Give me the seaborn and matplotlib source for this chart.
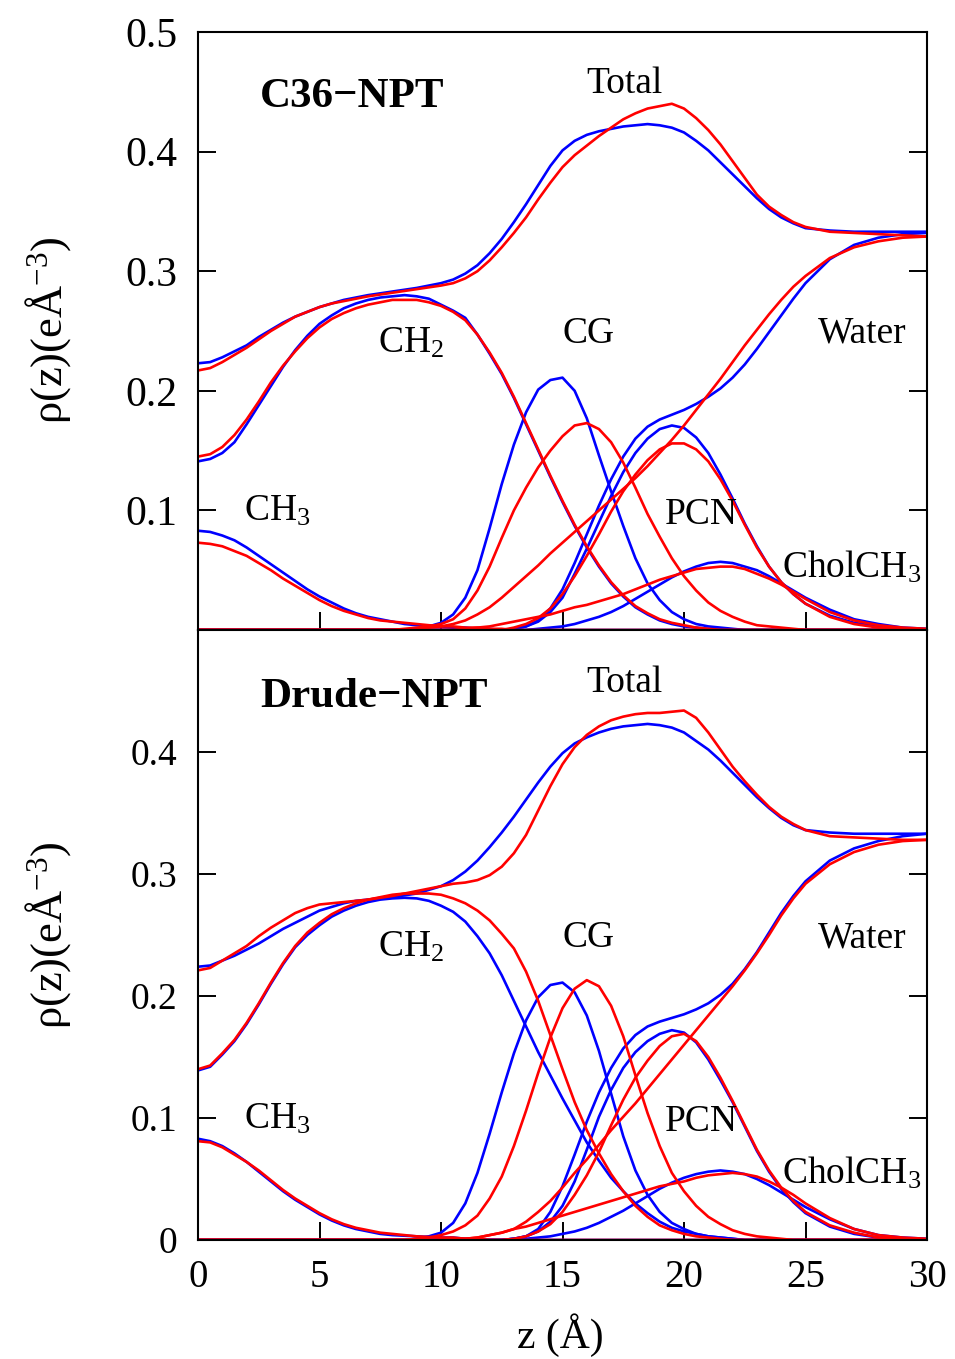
import matplotlib
matplotlib.use("Agg")
import matplotlib.pyplot as plt
import numpy as np
import pandas as pd
import seaborn as sns

# ---------------- data (electron density profiles, e/Å^3) ----------------
Z = [0, 0.5, 1, 1.5, 2, 2.5, 3, 3.5, 4, 4.5,
     5, 5.5, 6, 6.5, 7, 7.5, 8, 8.5, 9, 9.5,
     10, 10.5, 11, 11.5, 12, 12.5, 13, 13.5, 14, 14.5, 15,
     15.5, 16, 16.5, 17, 17.5, 18, 18.5, 19, 19.5, 20,
     20.5, 21, 21.5, 22, 22.5, 23, 23.5, 24, 24.5, 25,
     26, 27, 28, 29, 30]

ZERO20 = [0] * 20

# ---- C36-NPT panel ----
c36_total_blue = [.223, .224, .228, .233, .238, .245, .251, .257, .262, .266,
                  .270, .273, .276, .278, .280, .2815, .283, .2845, .286, .288,
                  .290, .293, .298, .305, .315, .327, .341, .356, .372, .388, .401,
                  .409, .414, .417, .419, .421, .422, .423, .422, .420, .416,
                  .409, .401, .391, .381, .371, .361, .352, .345, .340, .336,
                  .334, .333, .333, .333, .333]
c36_total_red = [.217, .219, .224, .230, .236, .243, .250, .256, .262, .266,
                 .270, .273, .275, .277, .279, .2805, .282, .2835, .285, .2865,
                 .288, .290, .294, .300, .309, .320, .332, .345, .360, .374, .387,
                 .397, .405, .413, .420, .427, .432, .436, .438, .440, .436,
                 .428, .418, .406, .392, .378, .364, .354, .347, .341, .337,
                 .333, .332, .331, .330, .329]
c36_ch2_blue = [.141, .143, .148, .157, .172, .188, .204, .220, .234, .246,
                .256, .263, .269, .273, .276, .278, .279, .280, .279, .277,
                .272, .267, .261, .247, .231, .214, .194, .172, .150, .128, .107,
                .087, .069, .053, .039, .028, .019, .013, .008, .005, .003,
                .002, .001, 0, 0, 0, 0, 0, 0, 0, 0,
                0, 0, 0, 0, 0]
c36_ch2_red = [.145, .147, .153, .163, .176, .191, .207, .221, .233, .244,
               .253, .260, .265, .269, .272, .274, .276, .276, .276, .274,
               .271, .266, .259, .247, .232, .215, .195, .173, .151, .129, .108,
               .088, .070, .054, .040, .029, .020, .014, .009, .006, .004,
               .002, .001, 0, 0, 0, 0, 0, 0, 0, 0,
               0, 0, 0, 0, 0]
c36_ch3_blue = [.083, .082, .079, .075, .069, .062, .055, .048, .041, .034,
                .028, .023, .018, .014, .011, .009, .007, .005, .004, .0035,
                .003, .002, .002, .001, .001, 0, 0, 0, 0, 0, 0,
                0, 0, 0, 0, 0, 0, 0, 0, 0, 0,
                0, 0, 0, 0, 0, 0, 0, 0, 0, 0,
                0, 0, 0, 0, 0]
c36_ch3_red = [.073, .072, .070, .066, .062, .056, .050, .043, .037, .031,
               .025, .020, .016, .013, .010, .008, .007, .006, .005, .004,
               .003, .003, .002, .002, .001, .001, 0, 0, 0, 0, 0,
               0, 0, 0, 0, 0, 0, 0, 0, 0, 0,
               0, 0, 0, 0, 0, 0, 0, 0, 0, 0,
               0, 0, 0, 0, 0]
c36_cg_blue = [0, 0, 0, 0, 0, 0, 0, 0, 0, 0,
               0, 0, 0, 0, 0, 0, 0, 0, .001, .003,
               .006, .013, .027, .050, .085, .122, .155, .182, .201, .209, .211,
               .200, .177, .146, .116, .087, .060, .039, .025, .015, .009,
               .005, .003, .002, .001, 0, 0, 0, 0, 0, 0,
               0, 0, 0, 0, 0]
c36_cg_red = [0, 0, 0, 0, 0, 0, 0, 0, 0, 0,
              0, 0, 0, 0, 0, 0, 0, .001, .002, .003,
              .005, .009, .018, .033, .053, .077, .100, .119, .136, .150, .162,
              .171, .173, .168, .157, .140, .119, .097, .078, .060, .045,
              .033, .023, .016, .011, .007, .004, .003, .002, .001, 0,
              0, 0, 0, 0, 0]
c36_pcn_blue = ZERO20 + [
                0, 0, 0, 0, 0, 0, .001, .003, .007, .015, .027,
                .047, .068, .090, .112, .132, .148, .160, .168, .171, .169,
                .161, .148, .130, .110, .089, .070, .053, .040, .030, .022,
                .012, .006, .003, .001, 0]
c36_pcn_red = ZERO20 + [
               0, 0, 0, 0, 0, 0, .002, .005, .010, .018, .030,
               .045, .062, .080, .099, .116, .130, .142, .151, .156, .156,
               .151, .141, .126, .108, .088, .069, .053, .040, .030, .022,
               .011, .005, .002, .001, 0]
c36_water_blue = ZERO20 + [
                  0, 0, 0, 0, 0, 0, .001, .003, .008, .018, .034,
                  .056, .080, .104, .126, .145, .160, .170, .176, .180, .184,
                  .189, .195, .202, .211, .222, .235, .249, .263, .277, .290,
                  .310, .322, .328, .331, .332]
c36_water_red = [0, 0, 0, 0, 0, 0, 0, 0, 0, 0,
                 0, 0, 0, 0, 0, 0, 0, 0, .001, .002,
                 .003, .005, .008, .013, .019, .027, .036, .045, .054, .064, .073,
                 .082, .091, .100, .109, .118, .127, .137, .148, .159, .171,
                 .184, .197, .210, .224, .238, .251, .264, .276, .287, .296,
                 .311, .320, .325, .328, .329]
c36_chol_blue = ZERO20 + [
                 0, 0, 0, 0, 0, 0, 0, 0, .001, .002, .003,
                 .005, .008, .011, .015, .020, .026, .032, .038, .044, .049,
                 .053, .056, .057, .056, .053, .050, .045, .039, .033, .027,
                 .017, .009, .005, .002, .001]
c36_chol_red = ZERO20 + [
                0, 0, .001, .002, .003, .005, .007, .009, .011, .013, .016,
                .019, .021, .024, .027, .030, .034, .038, .042, .045, .048,
                .051, .052, .053, .053, .051, .047, .043, .038, .032, .026,
                .015, .008, .004, .002, .001]

# ---- Drude-NPT panel ----
drude_total_blue = [.224, .225, .229, .233, .238, .243, .249, .255, .260, .265,
                    .270, .273, .276, .278, .279, .280, .281, .2825, .284, .287,
                    .290, .295, .302, .311, .322, .334, .347, .361, .375, .388, .399,
                    .407, .412, .416, .419, .421, .422, .423, .422, .420, .416,
                    .409, .402, .393, .383, .373, .363, .354, .346, .340, .336,
                    .334, .333, .333, .333, .333]
drude_total_red = [.221, .223, .229, .235, .241, .249, .256, .262, .268, .272,
                   .275, .276, .277, .278, .279, .2805, .282, .284, .286, .288,
                   .290, .292, .293, .295, .299, .306, .317, .332, .352, .372, .390,
                   .404, .414, .421, .426, .429, .431, .432, .432, .433, .434,
                   .428, .416, .402, .388, .376, .365, .355, .347, .341, .336,
                   .331, .330, .329, .328, .328]
drude_ch2_blue = [.139, .142, .152, .163, .177, .193, .210, .226, .240, .250,
                  .258, .265, .270, .274, .277, .279, .280, .2805, .280, .278,
                  .274, .269, .261, .249, .235, .217, .196, .175, .154, .135, .116,
                  .098, .080, .065, .051, .040, .030, .022, .015, .010, .007,
                  .005, .003, .002, .001, 0, 0, 0, 0, 0, 0,
                  0, 0, 0, 0, 0]
drude_ch2_red = [.140, .143, .153, .164, .178, .194, .211, .227, .241, .252,
                 .260, .267, .272, .276, .279, .281, .283, .284, .284, .284,
                 .283, .280, .276, .270, .262, .251, .239, .220, .196, .168, .140,
                 .113, .090, .071, .054, .040, .028, .019, .012, .008, .005,
                 .003, .002, .001, 0, 0, 0, 0, 0, 0, 0,
                 0, 0, 0, 0, 0]
drude_ch3_blue = [.083, .081, .077, .071, .064, .056, .048, .040, .033, .027,
                  .021, .016, .012, .009, .007, .005, .004, .0035, .003, .0025,
                  .002, .002, .001, .001, 0, 0, 0, 0, 0, 0, 0,
                  0, 0, 0, 0, 0, 0, 0, 0, 0, 0,
                  0, 0, 0, 0, 0, 0, 0, 0, 0, 0,
                  0, 0, 0, 0, 0]
drude_ch3_red = [.081, .080, .076, .070, .064, .057, .049, .041, .034, .028,
                 .022, .017, .013, .010, .008, .006, .005, .004, .003, .0025,
                 .002, .002, .001, .001, 0, 0, 0, 0, 0, 0, 0,
                 0, 0, 0, 0, 0, 0, 0, 0, 0, 0,
                 0, 0, 0, 0, 0, 0, 0, 0, 0, 0,
                 0, 0, 0, 0, 0]
drude_cg_blue = [0, 0, 0, 0, 0, 0, 0, 0, 0, 0,
                 0, 0, 0, 0, 0, 0, 0, 0, .001, .003,
                 .006, .014, .030, .055, .087, .121, .153, .180, .199, .209, .211,
                 .203, .184, .155, .120, .085, .057, .037, .023, .014, .009,
                 .005, .003, .002, .001, 0, 0, 0, 0, 0, 0,
                 0, 0, 0, 0, 0]
drude_cg_red = [0, 0, 0, 0, 0, 0, 0, 0, 0, 0,
                0, 0, 0, 0, 0, 0, 0, 0, .001, .002,
                .004, .007, .012, .020, .034, .052, .077, .106, .137, .166, .190,
                .206, .213, .208, .192, .167, .135, .104, .077, .055, .040,
                .028, .019, .013, .008, .005, .003, .002, .001, 0, 0,
                0, 0, 0, 0, 0]
drude_pcn_blue = ZERO20 + [
                  0, 0, 0, 0, 0, 0, .001, .003, .007, .015, .028,
                  .048, .074, .101, .123, .141, .154, .163, .169, .172, .170,
                  .162, .148, .131, .113, .093, .073, .056, .042, .031, .022,
                  .011, .005, .002, .001, 0]
drude_pcn_red = ZERO20 + [
                 0, 0, 0, 0, 0, 0, .001, .003, .007, .013, .023,
                 .037, .053, .072, .094, .115, .133, .147, .159, .167, .169,
                 .163, .150, .133, .114, .094, .074, .057, .043, .032, .023,
                 .012, .006, .002, .001, 0]
drude_water_blue = ZERO20 + [
                    0, 0, 0, 0, 0, 0, .001, .003, .009, .023, .044,
                    .070, .097, .121, .141, .157, .168, .175, .179, .182, .185,
                    .189, .194, .201, .210, .222, .236, .252, .268, .282, .294,
                    .311, .321, .327, .331, .333]
drude_water_red = ZERO20 + [
                   0, 0, .001, .002, .004, .006, .009, .015, .023, .032, .043,
                   .055, .066, .078, .090, .101, .112, .124, .136, .148, .160,
                   .172, .184, .196, .208, .221, .235, .250, .266, .280, .292,
                   .308, .318, .324, .327, .328]
drude_chol_blue = ZERO20 + [
                   0, 0, 0, 0, 0, 0, .001, .001, .002, .003, .005,
                   .007, .010, .014, .019, .024, .030, .036, .042, .047, .051,
                   .054, .056, .057, .056, .054, .050, .045, .039, .033, .027,
                   .017, .009, .004, .002, .001]
drude_chol_red = ZERO20 + [
                  0, .001, .001, .002, .004, .006, .009, .011, .014, .017, .020,
                  .023, .026, .029, .032, .035, .038, .041, .044, .046, .048,
                  .051, .053, .054, .055, .054, .052, .048, .043, .037, .030,
                  .018, .009, .004, .002, .001]

PANELS = {
    "C36": {
        "Total": (c36_total_blue, c36_total_red),
        "CH2": (c36_ch2_blue, c36_ch2_red),
        "CH3": (c36_ch3_blue, c36_ch3_red),
        "CG": (c36_cg_blue, c36_cg_red),
        "PCN": (c36_pcn_blue, c36_pcn_red),
        "Water": (c36_water_blue, c36_water_red),
        "CholCH3": (c36_chol_blue, c36_chol_red),
    },
    "Drude": {
        "Total": (drude_total_blue, drude_total_red),
        "CH2": (drude_ch2_blue, drude_ch2_red),
        "CH3": (drude_ch3_blue, drude_ch3_red),
        "CG": (drude_cg_blue, drude_cg_red),
        "PCN": (drude_pcn_blue, drude_pcn_red),
        "Water": (drude_water_blue, drude_water_red),
        "CholCH3": (drude_chol_blue, drude_chol_red),
    },
}

rows = []
for panel, comps in PANELS.items():
    for comp, (vb, vr) in comps.items():
        assert len(vb) == len(Z) and len(vr) == len(Z), (panel, comp, len(vb), len(vr))
        for series, vals in (("blue", vb), ("red", vr)):
            for z, v in zip(Z, vals):
                rows.append((panel, comp, series, z, v))
df = pd.DataFrame(rows, columns=["panel", "component", "series", "z", "rho"])

# ---------------- style ----------------
sns.set_theme(style="ticks")
plt.rcParams["font.family"] = ["Liberation Serif", "DejaVu Serif"]
plt.rcParams["mathtext.fontset"] = "custom"
plt.rcParams["mathtext.rm"] = "Liberation Serif"
plt.rcParams["mathtext.it"] = "Liberation Serif:italic"
plt.rcParams["mathtext.bf"] = "Liberation Serif:bold"
plt.rcParams["axes.linewidth"] = 1.5
plt.rcParams["axes.edgecolor"] = "black"
plt.rcParams["text.color"] = "black"
plt.rcParams["axes.labelcolor"] = "black"
plt.rcParams["xtick.color"] = "black"
plt.rcParams["ytick.color"] = "black"

W, H = 955, 1359
fig = plt.figure(figsize=(W / 100, H / 100), dpi=100)
L, R = 198, 927
ax_top = fig.add_axes([L / W, 1 - 630 / H, (R - L) / W, (630 - 32) / H])
ax_bot = fig.add_axes([L / W, 1 - 1240 / H, (R - L) / W, (1240 - 630) / H])

COLORS = {"blue": "#0000ff", "red": "#ff0000"}

for ax, panel in ((ax_top, "C36"), (ax_bot, "Drude")):
    sub = df[df["panel"] == panel]
    for series in ("blue", "red"):
        s = sub[sub["series"] == series]
        sns.lineplot(data=s, x="z", y="rho", units="component", estimator=None,
                     sort=False, color=COLORS[series], lw=1.9, legend=False, ax=ax)
    ax.set_xlim(0, 30)
    ax.set_ylim(0, 0.5)
    ax.set_xlabel("")
    ax.set_ylabel("")
    ax.set_xticks([0, 5, 10, 15, 20, 25, 30])
    ax.tick_params(axis="both", direction="in", length=13, width=1.4,
                   right=True, top=False, colors="black", labelcolor="black")
    for sp in ax.spines.values():
        sp.set_visible(True)
        sp.set_linewidth(1.5)
        sp.set_color("black")

# top panel ticks
ax_top.set_yticks([0.1, 0.2, 0.3, 0.4, 0.5])
ax_top.set_yticklabels(["0.1", "0.2", "0.3", "0.4", "0.5"])
ax_top.tick_params(axis="y", labelsize=30, pad=15)
ax_top.tick_params(axis="x", labelbottom=False)

# bottom panel ticks
ax_bot.set_yticks([0, 0.1, 0.2, 0.3, 0.4])
ax_bot.set_yticklabels(["0", "0.1", "0.2", "0.3", "0.4"])
ax_bot.tick_params(axis="y", labelsize=27, pad=15)
ax_bot.set_xticklabels(["0", "5", "10", "15", "20", "25", "30"])
ax_bot.tick_params(axis="x", labelsize=28, pad=14)

# annotations
def labels(ax, title, cholbase):
    kw = dict(ha="left", va="baseline", color="black")
    ax.text(2.55, 0.437, title, fontsize=31, fontweight="bold", **kw)
    ax.text(16.0, 0.449, "Total", fontsize=27, **kw)
    ax.text(7.4, 0.232, "CH$_2$", fontsize=27, **kw)
    ax.text(15.0, 0.240, "CG", fontsize=27, **kw)
    ax.text(25.5, 0.240, "Water", fontsize=27, **kw)
    ax.text(1.9, 0.0917, "CH$_3$", fontsize=27, **kw)
    ax.text(19.2, 0.089, "PCN", fontsize=27, **kw)
    ax.text(24.05, cholbase, "CholCH$_3$", fontsize=27, **kw)

labels(ax_top, "C36\u2212NPT", 0.044)
labels(ax_bot, "Drude\u2212NPT", 0.046)

ylab = "\u03c1(z)(e\u00c5$^{-3}$)"
fig.text(48 / W, 1 - 330 / H, ylab, rotation=90, fontsize=32, ha="center", va="center", color="black")
fig.text(48 / W, 1 - 935 / H, ylab, rotation=90, fontsize=32, ha="center", va="center", color="black")
fig.text(560 / W, 1 - 1335 / H, "z (\u00c5)", fontsize=30, ha="center", va="center", color="black")

fig.savefig("out.png", dpi=100)
